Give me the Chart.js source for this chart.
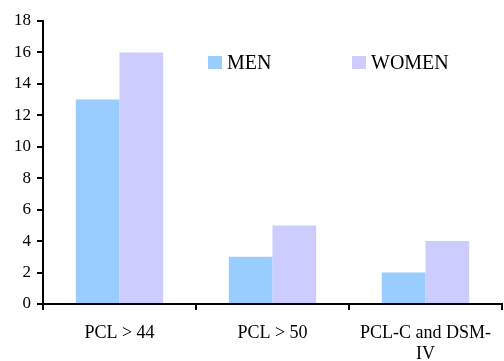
<!DOCTYPE html>
<html>
<head>
<meta charset="utf-8">
<script src="https://cdn.jsdelivr.net/npm/chart.js@4/dist/chart.umd.min.js"></script>
<style>
  html, body { margin: 0; padding: 0; background: #fff; }
  #wrap { width: 504px; height: 361px; }
</style>
</head>
<body>
<div id="wrap"><canvas id="c" width="504" height="361"></canvas></div>
<script>
const categories = ['PCL > 44', 'PCL > 50', ['PCL-C and DSM-', 'IV']];
const menValues = [13, 3, 2];
const womenValues = [16, 5, 4];
const seriesNames = ['MEN', 'WOMEN'];
const seriesColors = ['#99ccff', '#ccccff'];

const serif = "'Liberation Serif', 'Times New Roman', serif";

// legend drawn inside the plot area, like the original
const insideLegend = {
    id: 'insideLegend',
    afterDraw(chart) {
        const ctx = chart.ctx;
        const spots = [208, 352];
        ctx.save();
        ctx.font = `20px ${serif}`;
        ctx.textBaseline = 'alphabetic';
        chart.data.datasets.forEach((ds, i) => {
            const x = spots[i];
            ctx.fillStyle = ds.backgroundColor;
            ctx.fillRect(x, 56, 14, 13);
            ctx.fillStyle = '#000';
            ctx.fillText(ds.label, x + 19, 69);
        });
        ctx.restore();
    }
};

new Chart(document.getElementById('c'), {
    type: 'bar',
    data: {
        labels: categories,
        datasets: [
            { label: seriesNames[0], data: menValues, backgroundColor: seriesColors[0] },
            { label: seriesNames[1], data: womenValues, backgroundColor: seriesColors[1] }
        ]
    },
    options: {
        responsive: false,
        animation: false,
        layout: { padding: { top: 21, right: 0, left: 0, bottom: 0 } },
        plugins: { legend: { display: false }, tooltip: { enabled: false } },
        datasets: { bar: { categoryPercentage: 0.571, barPercentage: 1.0 } },
        scales: {
            x: {
                grid: { drawOnChartArea: false, drawTicks: true, tickLength: 6, color: '#000', lineWidth: 2 },
                border: { color: '#000', width: 2 },
                ticks: { color: '#000', font: { family: serif, size: 18, lineHeight: 1.15 }, padding: 13, maxRotation: 0, autoSkip: false },
                afterFit(scale) { scale.height = 57; }
            },
            y: {
                min: 0,
                max: 18,
                grid: { drawOnChartArea: false, drawTicks: true, tickLength: 6, color: '#000', lineWidth: 2 },
                border: { color: '#000', width: 2 },
                ticks: { stepSize: 2, color: '#000', font: { family: serif, size: 17 }, padding: 6 },
                afterFit(scale) { scale.width = 43; }
            }
        }
    },
    plugins: [insideLegend]
});
</script>
</body>
</html>
